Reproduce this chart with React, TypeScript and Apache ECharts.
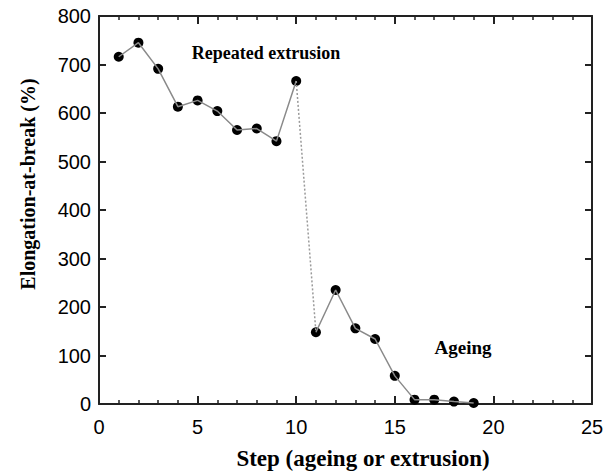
import React, { useEffect, useRef } from "react";
import * as echarts from "echarts";

const steps = [1, 2, 3, 4, 5, 6, 7, 8, 9, 10, 11, 12, 13, 14, 15, 16, 17, 18, 19];
const elongation = [716, 745, 691, 613, 626, 604, 565, 568, 542, 666, 148, 235, 156, 134, 58, 9, 9, 5, 2];
const xTicks = [0, 5, 10, 15, 20, 25];
const yTicks = [0, 100, 200, 300, 400, 500, 600, 700, 800];
const xTitle = "Step (ageing or extrusion)";
const yTitle = "Elongation-at-break (%)";
const noteExtrusion = "Repeated extrusion";
const noteAgeing = "Ageing";

export default function App() {
  const ref = useRef<HTMLDivElement>(null);
  useEffect(() => {
    if (!ref.current) return;
    const chart = echarts.init(ref.current, undefined, { renderer: "svg" });
    const pts = steps.map((s, i) => [s, elongation[i]]);
    const seg1 = pts.slice(0, 10);
    const seg2 = pts.slice(9, 11);
    const seg3 = pts.slice(10);
    const axisColor = "#222";
    const tickFont = { fontFamily: "Liberation Sans", fontSize: 20, color: "#000" };
    const serif = "Liberation Serif";
    chart.setOption({
      animation: false,
      backgroundColor: "#fff",
      grid: { left: 99, right: 20, top: 16, bottom: 68 },
      xAxis: [
        {
          type: "value", min: xTicks[0], max: xTicks[xTicks.length - 1], interval: 5,
          axisLine: { show: true, onZero: false, lineStyle: { color: axisColor, width: 2 } },
          axisTick: { show: true, inside: true, length: 8, lineStyle: { color: axisColor, width: 2 } },
          minorTick: { show: true, splitNumber: 5, length: 4, lineStyle: { color: axisColor, width: 1.5 } },
          splitLine: { show: false },
          axisLabel: { ...tickFont, margin: 13 },
        },
        {
          type: "value", position: "top", min: xTicks[0], max: xTicks[xTicks.length - 1], interval: 5,
          axisLine: { show: true, onZero: false, lineStyle: { color: axisColor, width: 2 } },
          axisTick: { show: true, inside: true, length: 8, lineStyle: { color: axisColor, width: 2 } },
          minorTick: { show: true, splitNumber: 5, length: 4, lineStyle: { color: axisColor, width: 1.5 } },
          splitLine: { show: false },
          axisLabel: { show: false },
        },
      ],
      yAxis: [
        {
          type: "value", min: yTicks[0], max: yTicks[yTicks.length - 1], interval: 100,
          axisLine: { show: true, onZero: false, lineStyle: { color: axisColor, width: 2 } },
          axisTick: { show: true, inside: true, length: 7, lineStyle: { color: axisColor, width: 2 } },
          splitLine: { show: false },
          axisLabel: { ...tickFont, margin: 8 },
        },
        {
          type: "value", position: "right", min: yTicks[0], max: yTicks[yTicks.length - 1], interval: 100,
          axisLine: { show: true, onZero: false, lineStyle: { color: axisColor, width: 2 } },
          axisTick: { show: true, inside: true, length: 7, lineStyle: { color: axisColor, width: 2 } },
          splitLine: { show: false },
          axisLabel: { show: false },
        },
      ],
      graphic: [
        {
          type: "text", x: 363, y: 458,
          style: { text: xTitle, font: `bold 23px "${serif}"`, fill: "#000", align: "center", verticalAlign: "middle" },
        },
        {
          type: "text", x: 28, y: 184, rotation: Math.PI / 2,
          style: { text: yTitle, font: `bold 20px "${serif}"`, fill: "#000", align: "center", verticalAlign: "middle" },
        },
        {
          type: "text", x: 266, y: 53,
          style: { text: noteExtrusion, font: `bold 18px "${serif}"`, fill: "#000", align: "center", verticalAlign: "middle" },
        },
        {
          type: "text", x: 463, y: 347,
          style: { text: noteAgeing, font: `bold 19px "${serif}"`, fill: "#000", align: "center", verticalAlign: "middle" },
        },
      ],
      series: [
        {
          type: "line", data: seg1, symbol: "none",
          lineStyle: { color: "#8a8a8a", width: 1.5 },
        },
        {
          type: "line", data: seg2, symbol: "none",
          lineStyle: { color: "#9a9a9a", width: 1.5, type: [2, 2] },
        },
        {
          type: "line", data: seg3, symbol: "none",
          lineStyle: { color: "#8a8a8a", width: 1.5 },
        },
        {
          type: "scatter", data: pts, symbol: "circle", symbolSize: 10,
          itemStyle: { color: "#000", opacity: 1 },
        },
      ],
    });
    return () => chart.dispose();
  }, []);
  return <div ref={ref} style={{ position: "absolute", left: 0, top: 0, width: 612, height: 472 }} />;
}
